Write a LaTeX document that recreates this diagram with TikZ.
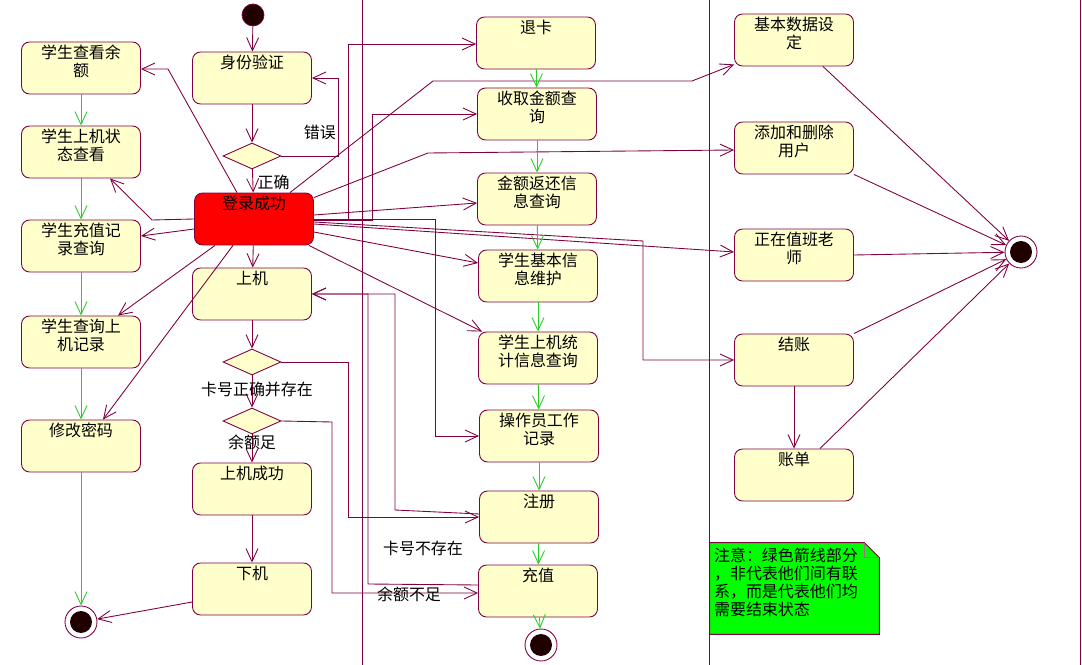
\documentclass[tikz,border=0pt]{standalone}
\usepackage{fontspec}
\newfontfamily\cjk{Noto Sans CJK SC}
\usetikzlibrary{arrows.meta, shapes.geometric, calc}
\definecolor{umlline}{RGB}{128,0,64}
\definecolor{umlgreen}{RGB}{40,205,40}
\definecolor{umlyellow}{RGB}{255,255,204}
\definecolor{umlred}{RGB}{255,0,0}
\definecolor{notegreen}{RGB}{0,255,0}
\definecolor{dotfill}{RGB}{32,0,0}

\begin{document}
\begin{tikzpicture}[
  x=0.02cm, y=-0.02cm,
  every node/.style={font=\cjk\fontsize{9.1}{10.3}\selectfont},
  statetext/.style={anchor=north, align=center, inner sep=0pt, yshift=-0.06cm},
  state/.style={draw=umlline, fill=umlyellow, rounded corners=0.16cm, minimum width=2.38cm, minimum height=1.04cm, inner sep=0pt, line width=0.5pt, label={[statetext]north:#1}},
  choice/.style={diamond, draw=umlline, fill=umlyellow, minimum width=1.16cm, minimum height=0.52cm, inner sep=0pt, line width=0.5pt},
  initial/.style={circle, draw=umlline, fill=dotfill, minimum size=0.44cm, inner sep=0pt},
  final/.style={circle, draw=umlline, fill=white, minimum size=0.64cm, inner sep=0pt, line width=0.5pt,
    path picture={\fill[dotfill] (path picture bounding box.center) circle (0.22cm);}},
  flow/.style={draw=umlline, line width=0.5pt, -{Straight Barb[length=2.6mm,width=2.4mm]}},
  done/.style={flow, draw=umlgreen},
  lane/.style={draw=umlline, line width=0.5pt},
  lbl/.style={inner sep=1pt}
]
\useasboundingbox (0,0) rectangle (1082,665);

% Swimlanes
\draw[lane] (362,0) -- (362,665);
\draw[lane] (709,0) -- (709,665);
\draw[lane] (1080,0) -- (1080,665);

% Login column
\node[initial] (start) at (253,15) {};
\node[state={身份验证}] (sfyz) at (252,78) {};
\node[choice] (pd1) at (252,156) {};
\node[state={登录成功}, fill=umlred] (dlcg) at (254,219) {};
\node[state={上机}] (sj) at (252,294) {};
\node[choice] (pd2) at (252,362) {};
\node[choice] (pd3) at (252,421) {};
\node[state={上机成功}] (sjcg) at (252,489) {};
\node[state={下机}] (xj) at (252,589) {};

% Student column
\node[state={学生查看余\\额}] (ckye) at (81,68) {};
\node[state={学生上机状\\态查看}] (ztck) at (81,152) {};
\node[state={学生充值记\\录查询}] (czjl) at (81,246) {};
\node[state={学生查询上\\机记录}] (sjjl) at (81,342) {};
\node[state={修改密码}] (xgmm) at (81,446) {};
\node[final] (end1) at (81,622) {};

% Operator column
\node[state={退卡}] (tk) at (536,43) {};
\node[state={收取金额查\\询}] (sqje) at (537,114) {};
\node[state={金额返还信\\息查询}] (jefh) at (537,199) {};
\node[state={学生基本信\\息维护}] (jbxx) at (538,276) {};
\node[state={学生上机统\\计信息查询}] (sjtj) at (538,358) {};
\node[state={操作员工作\\记录}] (czyjl) at (539,436) {};
\node[state={注册}] (zc) at (539,517) {};
\node[state={充值}] (cz) at (538,591) {};
\node[final] (end2) at (541,645) {};

% Admin column
\node[state={基本数据设\\定}] (jbsj) at (794,40) {};
\node[state={添加和删除\\用户}] (tjsc) at (794,148) {};
\node[state={正在值班老\\师}] (zbls) at (794,255) {};
\node[state={结账}] (jz) at (794,360) {};
\node[state={账单}] (zd) at (794,475) {};
\node[final] (end3) at (1021,252) {};

% Note
\node[minimum width=3.38cm, minimum height=1.82cm, inner sep=0pt] (note) at (794.5,588.5) {};
\filldraw[fill=notegreen, draw=umlline, line width=0.5pt] (note.south west) -- (note.north west)
  -- ($(note.north east)+(-15,0)$) -- ($(note.north east)+(0,15)$) -- (note.south east) -- cycle;
\draw[umlline!60, line width=0.4pt] ($(note.north east)+(-15,0)$) -- ($(note.north east)+(-15,15)$) -- ($(note.north east)+(0,15)$);
\node[anchor=north west, align=left, inner sep=0pt] (notetxt) at ($(note.north west)+(4,5)$)
  {注意：绿色箭线部分\\，非代表他们间有联\\系，而是代表他们均\\需要结束状态};

% Login flow
\draw[flow] (start) -- (sfyz);
\draw[flow] (sfyz) -- (pd1);
\draw[flow] (pd1) -- node[lbl, pos=0.55, anchor=west, xshift=0.05cm] {正确} (dlcg);
\draw[flow] (pd1.east) -- (338,156) -- node[lbl, pos=0.3, left] {错误} (338,78) -- (sfyz.east);
\draw[flow] (dlcg) -- (sj);
\draw[flow] (sj) -- (pd2);
\draw[flow] (pd2) -- node[lbl, pos=0.45, xshift=0.1cm] {卡号正确并存在} (pd3);
\draw[flow] (pd3) -- node[lbl, pos=0.3] {余额足} (sjcg);
\draw[flow] (sjcg) -- (xj);
\draw[flow] ($(xj.west)+(0,13)$) -- (end1);
\draw[flow] (pd2.east) -- (348,362) |- (zc.west);
\node[lbl] (kbcz) at (423,548) {卡号不存在};
\draw[flow] (pd3.east) -- (332,422) |- ($(cz.west)+(0,2)$);
\node[lbl] (yebz) at (409,594) {余额不足};
\draw[flow] ($(zc.west)+(0,-3)$) -- (395,510) -- (395,294) -- (sj.east);
\draw[flow] ($(cz.west)+(0,-6)$) -- (368,584) -- (368,294) -- (sj.east);

% Student functions
\draw[flow] ($(dlcg.north)+(-17,0)$) -- (168,69) -- ($(ckye.east)+(0,1)$);
\draw[flow] (dlcg.west) -- (152,220) -- ($(ztck.south)+(29,0)$);
\draw[flow] ($(dlcg.west)+(0,10)$) -- ($(czjl.east)+(0,-10)$);
\draw[flow] ($(dlcg.south)+(-39,0)$) -- ($(sjjl.north)+(37,0)$);
\draw[flow] ($(dlcg.south)+(-21,0)$) -- ($(xgmm.north)+(22,0)$);

% Operator functions
\draw[flow] ($(dlcg.east)+(0,1)$) -- (348,220) |- ($(tk.west)+(0,1)$);
\draw[flow] ($(dlcg.east)+(0,1)$) -- (372,220) |- (sqje.west);
\draw[flow] ($(dlcg.east)+(0,-4)$) -- ($(jefh.west)+(0,4)$);
\draw[flow] (dlcg.east) -- (435,219) |- (czyjl.west);
\draw[flow] ($(dlcg.east)+(0,13)$) -- ($(jbxx.west)+(0,-13)$);
\draw[flow] ($(dlcg.south east)+(-5,0)$) -- ($(sjtj.north west)+(4,0)$);

% Admin functions
\draw[flow] ($(dlcg.north)+(36,0)$) -- (433,81) -- (692,81) -- ($(jbsj.south west)+(0,-2)$);
\draw[flow] ($(dlcg.north east)+(0,5)$) -- (428,153) -- ($(tjsc.west)+(0,2)$);
\draw[flow] ($(dlcg.east)+(0,5)$) -- ($(zbls.west)+(0,-3)$);
\draw[flow] ($(dlcg.east)+(0,3)$) -- (643,241) -- (643,360) -- (jz.west);
\draw[flow] (jz) -- (zd);

% Green end arrows
\draw[done] (ckye) -- (ztck);
\draw[done] (ztck) -- (czjl);
\draw[done] (czjl) -- (sjjl);
\draw[done] (sjjl) -- (xgmm);
\draw[done] (xgmm) -- (end1);
\draw[done] (tk) -- (sqje);
\draw[done] (sqje) -- (jefh);
\draw[done] (jefh) -- (jbxx);
\draw[done] (jbxx) -- (sjtj);
\draw[done] (sjtj) -- (czyjl);
\draw[done] (czyjl) -- (zc);
\draw[done] (zc) -- (cz);
\draw[done] (cz) -- (end2);

% Admin end state
\draw[flow] ($(jbsj.south east)+(-31,0)$) -- (end3);
\draw[flow] (tjsc.south east) -- (end3);
\draw[flow] (zbls.east) -- (end3);
\draw[flow] (jz.north east) -- (end3);
\draw[flow] ($(zd.north east)+(-34,0)$) -- (end3);

\end{tikzpicture}
\end{document}
